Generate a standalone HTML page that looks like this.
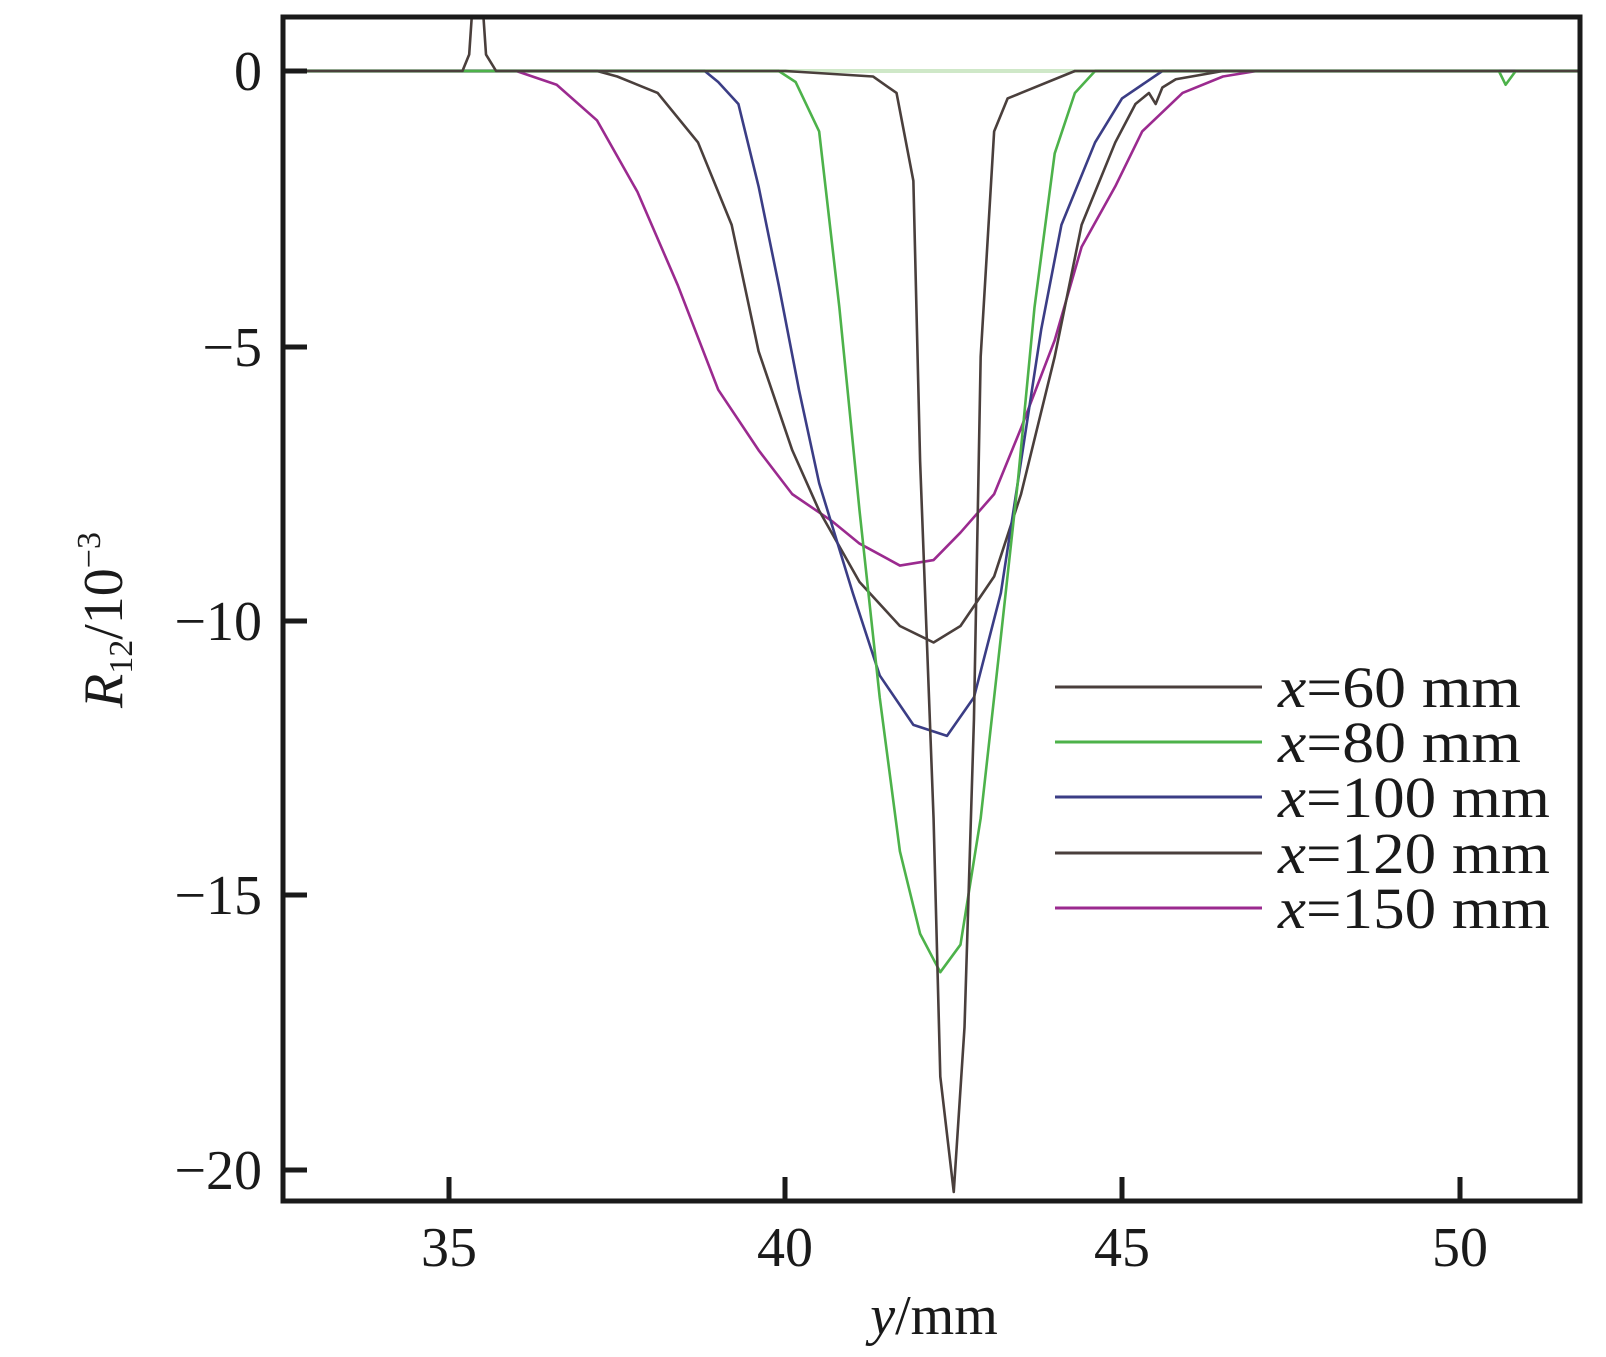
<!DOCTYPE html>
<html><head><meta charset="utf-8"><style>
html,body{margin:0;padding:0;background:#fff;}
svg{display:block;font-family:"Liberation Serif",serif;}
</style></head><body>
<svg width="1606" height="1357" viewBox="0 0 1606 1357" xmlns="http://www.w3.org/2000/svg">
<defs><clipPath id="c"><rect x="283" y="17" width="1297" height="1184"/></clipPath></defs>
<g clip-path="url(#c)">
<g transform="matrix(67.3,0,0,-54.95,-1906.5,71)" fill="none" stroke-width="2.6" stroke-linejoin="round">
<polyline vector-effect="non-scaling-stroke" stroke="#cfe8c8" stroke-width="4" points="32,0 52,0"/>
<polyline vector-effect="non-scaling-stroke" stroke="#9b2a8f" points="32,0 36,0 36.6,-0.25 37.2,-0.9 37.8,-2.2 38.4,-3.9 39,-5.8 39.6,-6.9 40.1,-7.7 40.7,-8.2 41.1,-8.6 41.7,-9 42.2,-8.9 42.6,-8.4 43.1,-7.7 43.5,-6.5 44,-4.9 44.4,-3.2 44.9,-2.1 45.3,-1.1 45.9,-0.4 46.5,-0.1 47,0 52,0"/>
<polyline vector-effect="non-scaling-stroke" stroke="#4a3f3c" points="32,0 37.2,0 37.5,-0.1 38.1,-0.4 38.7,-1.3 39.2,-2.8 39.6,-5.1 40.1,-6.9 40.5,-8 41.1,-9.3 41.7,-10.1 42.2,-10.4 42.6,-10.1 43.1,-9.2 43.5,-7.7 44,-5.2 44.4,-2.8 44.9,-1.3 45.2,-0.6 45.4,-0.4 45.5,-0.6 45.6,-0.3 45.8,-0.15 46.5,0 52,0"/>
<polyline vector-effect="non-scaling-stroke" stroke="#3b3d85" points="32,0 38.8,0 39,-0.2 39.3,-0.6 39.6,-2.1 39.9,-3.9 40.2,-5.8 40.5,-7.5 41,-9.5 41.4,-11 41.9,-11.9 42.4,-12.1 42.8,-11.4 43.2,-9.5 43.5,-7.1 43.8,-4.7 44.1,-2.8 44.6,-1.3 45,-0.5 45.6,0 52,0"/>
<polyline vector-effect="non-scaling-stroke" stroke="#4db24a" points="32,0 39.9,0 40.15,-0.2 40.5,-1.1 40.8,-4.3 41.1,-8 41.4,-11.4 41.7,-14.2 42,-15.7 42.3,-16.4 42.6,-15.9 42.9,-13.6 43.2,-10.3 43.45,-7.5 43.7,-4.3 44,-1.5 44.3,-0.4 44.6,0 50.6,0 50.7,-0.25 50.85,0 52,0"/>
<polyline vector-effect="non-scaling-stroke" stroke="#4a3f3c" points="32,0 35.2,0 35.3,0.3 35.35,1.2 35.5,1.2 35.55,0.3 35.7,0 40,0 41.3,-0.1 41.65,-0.4 41.9,-2 42,-7.1 42.2,-13.6 42.3,-18.3 42.5,-20.4 42.66,-17.4 42.8,-11.8 42.9,-5.2 43.1,-1.1 43.3,-0.5 43.5,-0.4 44.3,0 52,0"/>
</g></g>
<rect x="283" y="17" width="1297" height="1184" fill="none" stroke="#1a1a1a" stroke-width="5"/>
<g stroke="#1a1a1a" stroke-width="5">
<line x1="283" y1="71" x2="307" y2="71"/><line x1="283" y1="347" x2="307" y2="347"/><line x1="283" y1="621" x2="307" y2="621"/><line x1="283" y1="895" x2="307" y2="895"/><line x1="283" y1="1170" x2="307" y2="1170"/>
<line x1="449" y1="1201" x2="449" y2="1177"/><line x1="785" y1="1201" x2="785" y2="1177"/><line x1="1122" y1="1201" x2="1122" y2="1177"/><line x1="1460" y1="1201" x2="1460" y2="1177"/>
</g>
<g font-size="56" fill="#1a1a1a" text-anchor="end">
<text x="262" y="90">0</text><text x="262" y="366">−5</text><text x="262" y="640">−10</text><text x="262" y="914">−15</text><text x="262" y="1189">−20</text>
</g>
<g font-size="56" fill="#1a1a1a" text-anchor="middle">
<text x="449" y="1266">35</text><text x="785" y="1266">40</text><text x="1122" y="1266">45</text><text x="1460" y="1266">50</text>
<text x="934" y="1334"><tspan font-style="italic">y</tspan>/mm</text>
</g>
<text transform="translate(122,620) rotate(-90)" font-size="56" fill="#1a1a1a" text-anchor="middle"><tspan font-style="italic">R</tspan><tspan font-size="34" dy="10">12</tspan><tspan dy="-10">/10</tspan><tspan font-size="34" dy="-22">−3</tspan></text>
<g stroke-width="3">
<line x1="1055" y1="687" x2="1262" y2="687" stroke="#4a3f3c"/>
<line x1="1055" y1="742" x2="1262" y2="742" stroke="#4db24a"/>
<line x1="1055" y1="797" x2="1262" y2="797" stroke="#3b3d85"/>
<line x1="1055" y1="853" x2="1262" y2="853" stroke="#4a3f3c"/>
<line x1="1055" y1="908" x2="1262" y2="908" stroke="#9b2a8f"/>
</g>
<g font-size="58" fill="#1a1a1a">
<text x="1278" y="707" textLength="243" lengthAdjust="spacingAndGlyphs"><tspan font-style="italic">x</tspan>=60 mm</text>
<text x="1278" y="762" textLength="243" lengthAdjust="spacingAndGlyphs"><tspan font-style="italic">x</tspan>=80 mm</text>
<text x="1278" y="817" textLength="272" lengthAdjust="spacingAndGlyphs"><tspan font-style="italic">x</tspan>=100 mm</text>
<text x="1278" y="873" textLength="272" lengthAdjust="spacingAndGlyphs"><tspan font-style="italic">x</tspan>=120 mm</text>
<text x="1278" y="928" textLength="272" lengthAdjust="spacingAndGlyphs"><tspan font-style="italic">x</tspan>=150 mm</text>
</g>
</svg>
</body></html>
